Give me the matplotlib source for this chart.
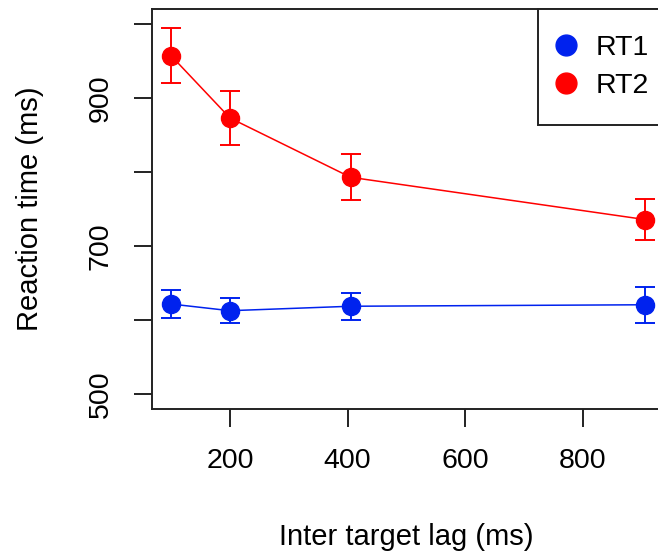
import numpy as np
import matplotlib
matplotlib.use('Agg')
from matplotlib import pyplot as plt
from matplotlib.lines import Line2D

plt.rcParams['font.family'] = ['Liberation Sans', 'DejaVu Sans']

# inter target lag (ms)
lag = [100, 200, 405, 905]

# mean reaction times and error bars (ms)
rt1 = [622, 613, 619, 621]
rt1_err = [19, 17, 18, 24]
rt2 = [957, 873, 793, 736]
rt2_err = [37, 36, 31, 28]

series_names = ['RT1', 'RT2']
series_colors = ['#0022ee', '#ff0000']

yticks = [500, 600, 700, 800, 900, 1000]
ytick_labels = ['500', '', '700', '', '900', '']
xticks = [200, 400, 600, 800]

fs = 20.5

fig = plt.figure(figsize=[6.58, 5.54], dpi=100)
# right edge of the box sits just past the image edge, like the cropped original
ax = fig.add_axes([0.231, 0.2612, 0.7781, 0.7226])

for y, err, c in zip([rt1, rt2], [rt1_err, rt2_err], series_colors):
    ax.plot(lag, y, color=c, lw=1.1)
    ax.errorbar(lag, y, yerr=err, fmt='o', color=c, ms=13, elinewidth=1.4,
                capsize=7.5, capthick=1.4)

ax.set_xlim(67.6, 937.5)
ax.set_ylim(480, 1020)
ax.set_xticks(xticks)
ax.set_yticks(yticks)
ax.set_yticklabels(ytick_labels)
ax.tick_params(direction='out', length=13.3, width=1.4, color='#222222',
               labelsize=fs, pad=14.4)
ax.tick_params(axis='y', labelrotation=90)
plt.setp(ax.get_yticklabels(), va='center')

for s in ax.spines.values():
    s.set_linewidth(1.4)
    s.set_color('#222222')

ax.set_xlabel('Inter target lag (ms)', fontsize=fs + 0.5)
ax.set_ylabel('Reaction time (ms)', fontsize=fs + 0.5)
ax.xaxis.set_label_coords(0.5 * 0.7736 / 0.7781, -0.284)
ax.yaxis.set_label_coords(-0.2126 * 0.7736 / 0.7781, 0.5)

handles = [Line2D([], [], marker='o', ls='none', color=c, ms=15)
           for c in series_colors]
leg = ax.legend(handles, series_names, loc='upper right', fontsize=fs,
                bbox_to_anchor=(1.022, 1.0),
                borderaxespad=0, fancybox=False, framealpha=1,
                edgecolor='#222222', borderpad=0.93, labelspacing=0.4,
                handlelength=0.1, handletextpad=1.0)
leg.get_frame().set_linewidth(1.4)

fig.savefig('out.png', dpi=100)
